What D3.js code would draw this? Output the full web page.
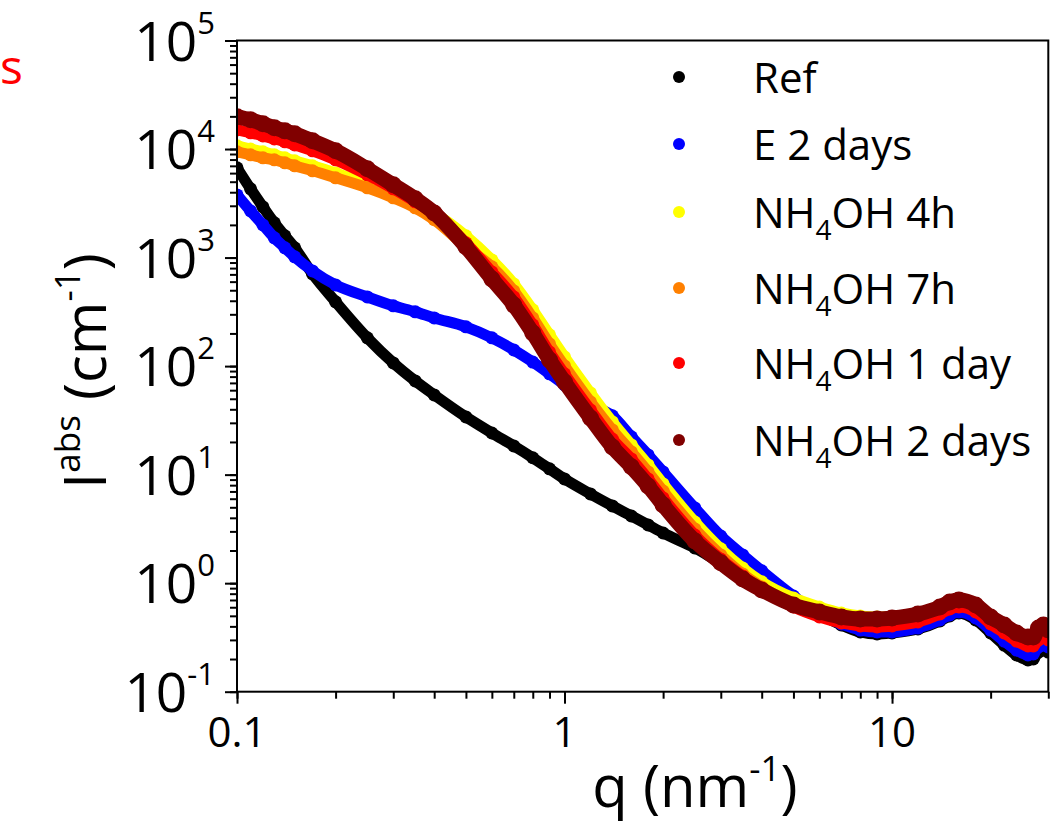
<!DOCTYPE html>
<html>
<head>
<meta charset="utf-8">
<script src="https://cdn.jsdelivr.net/npm/d3@7"></script>
<style>
  body { margin: 0; background: #fff; }
  text { font-family: "Open Sans", sans-serif; }
</style>
</head>
<body>
<script>
// ---- data ----
var qValues = [0.1, 0.11, 0.12, 0.13, 0.14, 0.15, 0.17, 0.2, 0.25, 0.3, 0.35, 0.4, 0.5, 0.6, 0.7, 0.8, 0.9, 1.0,
    1.2, 1.4, 1.6, 1.8, 2, 2.5, 3, 3.5, 4, 5, 6, 7, 8, 9, 10, 12, 14, 15, 16, 18, 20, 22, 24, 26, 27, 28, 29, 30];

var refI = [6710, 4300, 2930, 2090, 1585, 1230, 708, 391, 182, 107, 73.0, 54.3, 34.0, 24.2, 18.4, 14.3, 11.3, 9.13,
    6.64, 5.15, 4.16, 3.44, 2.90, 2.11, 1.54, 1.216, 0.983, 0.700, 0.520, 0.412, 0.355, 0.340, 0.348, 0.378, 0.448,
    0.498, 0.531, 0.458, 0.348, 0.269, 0.218, 0.196, 0.200, 0.232, 0.242, 0.232];
var e2daysI = [3780, 2690, 2000, 1520, 1230, 1015, 754, 560, 434, 359, 316, 278, 230, 182, 141, 109, 84.8, 67.1,
    43.9, 34.8, 22.3, 15.2, 10.6, 4.93, 2.72, 1.82, 1.30, 0.762, 0.520, 0.421, 0.370, 0.355, 0.355, 0.386, 0.458,
    0.509, 0.543, 0.478, 0.370, 0.293, 0.242, 0.218, 0.223, 0.258, 0.269, 0.258];
var nh4hI = [10700, 10000, 9420, 8840, 8300, 7780, 7000, 6030, 4780, 3870, 3190, 2580, 1585, 952, 572, 330, 194, 121.5,
    56.6, 30.6, 18.8, 12.3, 8.21, 3.66, 2.07, 1.38, 1.03, 0.731, 0.603, 0.531, 0.498, 0.488, 0.488, 0.531, 0.616,
    0.671, 0.685, 0.616, 0.478, 0.395, 0.333, 0.300, 0.300, 0.340, 0.370, 0.340];
var nh7hI = [9420, 8840, 8300, 7950, 7460, 7000, 6300, 5430, 4390, 3550, 2870, 2230, 1255, 821, 493, 278, 160, 100.4,
    46.8, 25.8, 16.2, 10.6, 7.07, 3.16, 1.82, 1.216, 0.923, 0.643, 0.543, 0.488, 0.468, 0.458, 0.468, 0.498, 0.578,
    0.643, 0.657, 0.591, 0.458, 0.386, 0.326, 0.293, 0.293, 0.319, 0.348, 0.326];
var nh1dayI = [15000, 14100, 13200, 12400, 11650, 10900, 9620, 7950, 5780, 4300, 3260, 2530, 1370, 738, 434, 240, 135, 84.8,
    39.5, 21.3, 13.95, 9.13, 6.10, 2.78, 1.67, 1.165, 0.884, 0.603, 0.488, 0.430, 0.403, 0.395, 0.403, 0.439, 0.520,
    0.578, 0.603, 0.543, 0.421, 0.348, 0.293, 0.264, 0.264, 0.300, 0.326, 0.300];
var nh2daysI = [19800, 18600, 17100, 15700, 14700, 13800, 11900, 9620, 6570, 4680, 3480, 2580, 1255, 636, 366, 202, 114, 71.5,
    33.3, 18.0, 11.8, 7.87, 5.26, 2.45, 1.54, 1.09, 0.866, 0.630, 0.543, 0.488, 0.468, 0.468, 0.478, 0.520, 0.603,
    0.671, 0.700, 0.630, 0.488, 0.412, 0.348, 0.319, 0.319, 0.386, 0.412, 0.370];

var seriesNames = ["Ref", "E 2 days", "NH4OH 4h", "NH4OH 7h", "NH4OH 1 day", "NH4OH 2 days"];
var seriesValues = [refI, e2daysI, nh4hI, nh7hI, nh1dayI, nh2daysI];
var seriesColors = ["#000000", "#0000ff", "#ffff00", "#ff8000", "#ff0000", "#800000"];

var xTickValues = [0.1, 1, 10];
var xTickLabels = ["0.1", "1", "10"];
var yTickValues = [0.1, 1, 10, 100, 1000, 10000, 100000];
var yTickExps = ["-1", "0", "1", "2", "3", "4", "5"];

// ---- layout ----
var svgWidth = 1059, svgHeight = 828;
var margin = {top: 40.5, right: 10.7, bottom: 136.3, left: 237};
var width = svgWidth - margin.left - margin.right;
var height = svgHeight - margin.top - margin.bottom;

var svg = d3.select("body").append("svg")
    .attr("width", svgWidth)
    .attr("height", svgHeight);

// red letter at the top-left edge of the figure
svg.append("text")
    .attr("x", 0).attr("y", 84)
    .attr("text-anchor", "start")
    .attr("font-size", "48px")
    .attr("fill", "#ff0000")
    .text("s");

var chartGroup = svg.append("g")
    .attr("transform", `translate(${margin.left}, ${margin.top})`);

var xScale = d3.scaleLog().domain([0.1, 30]).range([0, width]);
var yScale = d3.scaleLog().domain([0.1, 1e5]).range([height, 0]);

// ---- axes (ticks only, frame drawn separately) ----
function styleTicks(g) {
    g.select(".domain").remove();
    g.selectAll(".tick line").attr("stroke", "#000").attr("stroke-width", 2);
}

chartGroup.append("g")
    .attr("transform", `translate(0, ${height})`)
    .call(d3.axisBottom(xScale).tickValues(xScale.ticks()).tickSize(7).tickFormat(""))
    .call(styleTicks);
chartGroup.append("g")
    .attr("transform", `translate(0, ${height})`)
    .call(d3.axisBottom(xScale).tickValues(xTickValues).tickSize(12).tickFormat(""))
    .call(styleTicks);
chartGroup.append("g")
    .call(d3.axisLeft(yScale).tickValues(yScale.ticks()).tickSize(7).tickFormat(""))
    .call(styleTicks);
chartGroup.append("g")
    .call(d3.axisLeft(yScale).tickValues(yTickValues).tickSize(12).tickFormat(""))
    .call(styleTicks);

// x tick labels
chartGroup.selectAll(".xlab")
    .data(xTickValues)
    .enter().append("text")
    .attr("x", d => xScale(d))
    .attr("y", height + 55)
    .attr("text-anchor", "middle")
    .attr("font-size", "42px")
    .text((d, i) => xTickLabels[i]);

// y tick labels 10^n
var yLab = chartGroup.selectAll(".ylab")
    .data(yTickValues)
    .enter().append("text")
    .attr("x", -22)
    .attr("y", d => yScale(d) + 20)
    .attr("text-anchor", "end")
    .attr("font-size", "55px");
yLab.append("tspan").text("10");
yLab.append("tspan")
    .attr("dy", -27)
    .attr("font-size", "31px")
    .text((d, i) => yTickExps[i]);

// ---- data ----
chartGroup.append("clipPath").attr("id", "plotClip")
    .append("rect").attr("width", width).attr("height", height);

var plotArea = chartGroup.append("g").attr("clip-path", "url(#plotClip)");

var lineGen = d3.line()
    .x(d => xScale(d.q))
    .y(d => yScale(d.I))
    .curve(d3.curveMonotoneX);

seriesValues.forEach(function (vals, si) {
    var pts = qValues.map((q, i) => ({q: q, I: vals[i]}));
    var r = si === 5 ? 8.5 : 6.5;
    var g = plotArea.append("g");
    g.append("path")
        .datum(pts)
        .attr("d", lineGen)
        .attr("fill", "none")
        .attr("stroke", seriesColors[si])
        .attr("stroke-width", 2 * r - 2)
        .attr("stroke-linecap", "round");
    g.selectAll("circle")
        .data(pts)
        .enter().append("circle")
        .attr("cx", d => xScale(d.q))
        .attr("cy", d => yScale(d.I))
        .attr("r", r)
        .attr("fill", seriesColors[si]);
});

// frame
chartGroup.append("rect")
    .attr("width", width).attr("height", height)
    .attr("fill", "none")
    .attr("stroke", "#000")
    .attr("stroke-width", 2);

// ---- legend ----
var legendY = [77, 144, 212, 288, 363, 440];
var legend = svg.append("g");
seriesNames.forEach(function (name, i) {
    legend.append("circle")
        .attr("cx", 679).attr("cy", legendY[i])
        .attr("r", 6)
        .attr("fill", seriesColors[i]);
    var t = legend.append("text")
        .attr("x", 753).attr("y", legendY[i] + 16)
        .attr("font-size", "42px");
    var m = name.match(/^NH4OH(.*)$/);
    if (m) {
        t.append("tspan").text("NH");
        t.append("tspan").attr("dy", 12).attr("font-size", "28px").text("4");
        t.append("tspan").attr("dy", -12).text("OH" + m[1]);
    } else {
        t.text(name);
    }
});

// ---- axis titles ----
var xTitle = svg.append("text")
    .attr("x", 695).attr("y", 807)
    .attr("text-anchor", "middle")
    .attr("font-size", "58px");
xTitle.append("tspan").text("q (nm");
xTitle.append("tspan").attr("dy", -26).attr("font-size", "35px").text("-1");
xTitle.append("tspan").attr("dy", 26).text(")");

var yTitle = svg.append("text")
    .attr("transform", "translate(106, 371) rotate(-90)")
    .attr("text-anchor", "middle")
    .attr("font-size", "58px");
yTitle.append("tspan").text("I");
yTitle.append("tspan").attr("dy", -26).attr("font-size", "35px").text("abs");
yTitle.append("tspan").attr("dy", 26).text(" (cm");
yTitle.append("tspan").attr("dy", -26).attr("font-size", "35px").text("-1");
yTitle.append("tspan").attr("dy", 26).text(")");
</script>
</body>
</html>
